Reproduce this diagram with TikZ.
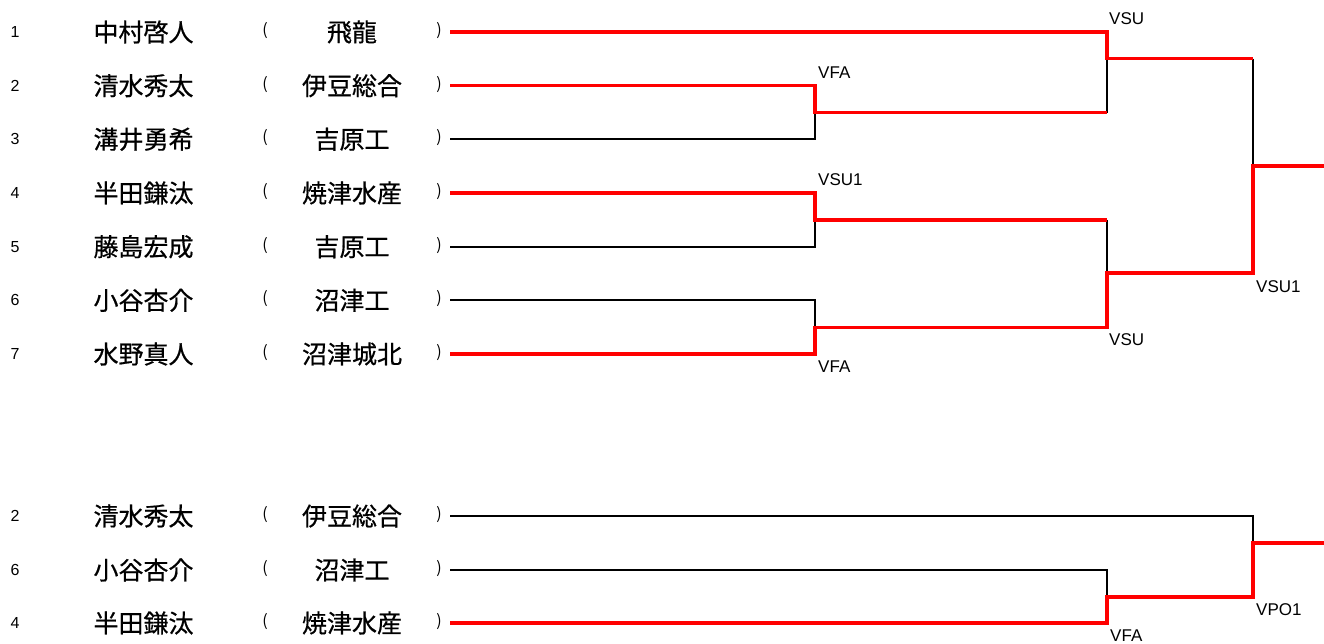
\documentclass[tikz,border=0pt]{standalone}
\usepackage{fontspec}
\setmainfont{Liberation Sans}
\newfontfamily\jp{Noto Sans CJK JP}
\tikzset{
  lose/.style={line width=1.9pt, black},
  win/.style={line width=3.4pt, red},
  num/.style={font=\fontsize{16}{16}\selectfont, inner sep=0},
  nm/.style={font=\jp\fontsize{25}{25}\selectfont\addfontfeature{FakeBold=0.6}, inner sep=0},
  paren/.style={font=\jp\fontsize{16}{16}\selectfont, inner sep=0},
  lab/.style={font=\fontsize{17}{17}\selectfont, anchor=west, inner sep=0},
}
\begin{document}
\begin{tikzpicture}[x=1pt,y=-1pt]
\useasboundingbox (0,0) rectangle (1324,643);
% entries
\foreach \k/\y/\n/\p/\s in {
  1/32/1/中村啓人/飛龍,
  2/85.7/2/清水秀太/伊豆総合,
  3/139.3/3/溝井勇希/吉原工,
  4/193/4/半田鎌汰/焼津水産,
  5/246.7/5/藤島宏成/吉原工,
  6/300.3/6/小谷杏介/沼津工,
  7/354/7/水野真人/沼津城北,
  8/516/2/清水秀太/伊豆総合,
  9/570/6/小谷杏介/沼津工,
  10/623/4/半田鎌汰/焼津水産}{
  \node[num] (n\k) at (15,\y) {\n};
  \node[nm] (p\k) at (143.5,\y) {\p};
  \node[paren] (l\k) at (265,\y-1.5) {(};
  \node[paren] (r\k) at (439,\y-1.5) {)};
  \node[nm] (s\k) at (352,\y) {\s};
  \coordinate (e\k) at (450,\y);
}
% junctions
\coordinate (qa) at (815,112.5);
\coordinate (qb) at (815,219.8);
\coordinate (qc) at (815,327.2);
\coordinate (sa) at (1107,58.5);
\coordinate (sb) at (1107,273);
\coordinate (f) at (1253,166);
\coordinate (fend) at (1324,166);
\coordinate (t1) at (1107,597);
\coordinate (t2) at (1253,543);
\coordinate (tend) at (1324,543);
% losing lines
\draw[lose] (e3) -| (qa);
\draw[lose] (e5) -| (qb);
\draw[lose] (e6) -| (qc);
\draw[lose] (sa) -- (sa |- qa);
\draw[lose] (qb -| sa) -- (sb);
\draw[lose] (f |- sa) -- (f);
\draw[lose] (e8) -| (t2);
\draw[lose] (e9) -| (t1);
% winning lines
\draw[win] (e1) -| (sa) -- (f |- sa);
\draw[win] (e2) -| (qa) -- (qa -| sa);
\draw[win] (e4) -| (qb) -- (qb -| sa);
\draw[win] (e7) -| (qc) -| (sb) -| (f) -- (fend);
\draw[win] (e10) -| (t1) -| (t2) -- (tend);
% labels
\node[lab] (v1) at (1109,18.5) {VSU};
\node[lab] (v2) at (818,72.5) {VFA};
\node[lab] (v3) at (818,179.5) {VSU1};
\node[lab] (v4) at (1256,287) {VSU1};
\node[lab] (v5) at (1109,340) {VSU};
\node[lab] (v6) at (818,367) {VFA};
\node[lab] (v7) at (1256,609.5) {VPO1};
\node[lab] (v8) at (1110,636) {VFA};
\end{tikzpicture}
\end{document}
